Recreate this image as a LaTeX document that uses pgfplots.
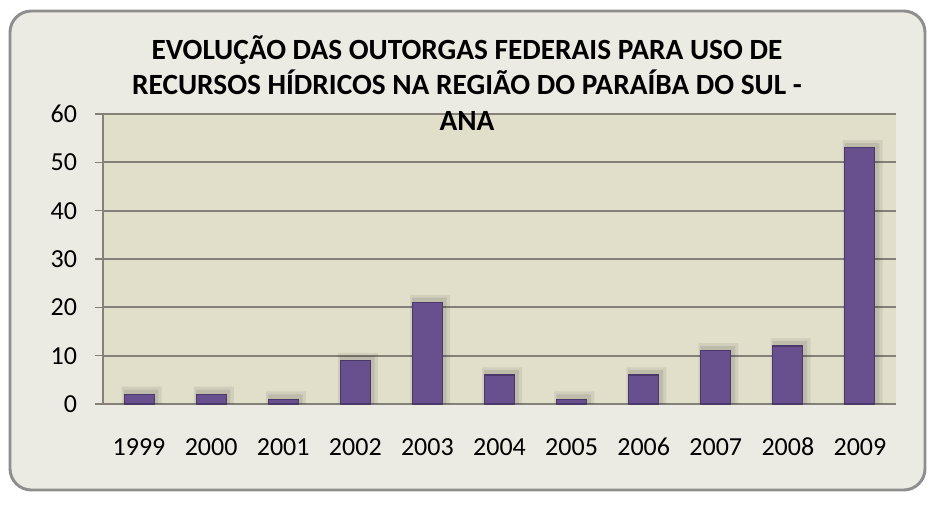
\documentclass[border=0pt]{standalone}
\usepackage{pgfplots}
\usepackage{pgfplotstable}
\pgfplotsset{compat=1.18}
\usepackage{fontspec}
\setmainfont{Carlito}
\definecolor{outerbg}{HTML}{ECEBE3}
\definecolor{plotbg}{HTML}{E1DECA}
\definecolor{gridc}{HTML}{858179}
\definecolor{barc}{HTML}{67508D}
\definecolor{bard}{HTML}{4A3868}
\definecolor{framec}{HTML}{8E8E8E}
\pgfplotstableread{
x y
0 2
1 2
2 1
3 9
4 21
5 6
6 1
7 6
8 11
9 12
10 53
}\data
\begin{document}
\begin{tikzpicture}
\path[use as bounding box] (0,0) rectangle ({935*0.75pt},{-504*0.75pt});
\fill[white] (0,0) rectangle ({935*0.75pt},{-504*0.75pt});
\draw[line width=2.2pt, framec, fill=outerbg, rounded corners=16pt] ({10*0.75pt},{-11*0.75pt}) rectangle ({925*0.75pt},{-490*0.75pt});
\begin{axis}[
  at={({103*0.75pt},{-404*0.75pt})}, anchor=south west,
  scale only axis, width={793*0.75pt}, height={290*0.75pt},
  xmin=-0.5, xmax=10.5, ymin=0, ymax=60,
  axis background/.style={fill=plotbg},
  axis x line*=bottom, axis y line*=left,
  axis line style={gridc, line width=1.2pt},
  ytick={0,10,...,60},
  ymajorgrids, major grid style={gridc, line width=1.5pt},
  xtick={0,...,10},
  xticklabels={1999,2000,2001,2002,2003,2004,2005,2006,2007,2008,2009},
  minor xtick={-0.5,0.5,...,10.5},
  xtick style={draw=none},
  minor x tick style={gridc, line width=1.2pt},
  minor tick length=7pt,
  ytick style={gridc, line width=1.2pt},
  major tick length=6pt,
  tick align=outside,
  xticklabel style={yshift=-16pt, text height=13pt, text depth=0pt},
  yticklabel style={xshift=-10pt},
  tick label style={font=\fontsize{19.5}{23}\selectfont, text=black},
  /pgf/number format/assume math mode=true,
  clip=false,
]
\addplot[ybar, bar width=30pt, bar shift=2pt, fill=black, fill opacity=0.07, draw=none]
  table[x=x, y expr=\thisrow{y}+1.6] {\data};
\addplot[ybar, bar width=26pt, bar shift=1.5pt, fill=black, fill opacity=0.09, draw=none]
  table[x=x, y expr=\thisrow{y}+1.0] {\data};
\addplot[ybar, bar width=22.5pt, fill=barc, draw=bard, line width=0.8pt]
  table[x=x, y=y] {\data};
\end{axis}
\node[align=center, font=\fontsize{22}{26.5}\selectfont\bfseries, text=black] at ({467*0.75pt},{-83*0.75pt})
  {EVOLUÇÃO DAS OUTORGAS FEDERAIS PARA USO DE\\RECURSOS HÍDRICOS NA REGIÃO DO PARAÍBA DO SUL -\\ANA};
\end{tikzpicture}
\end{document}
